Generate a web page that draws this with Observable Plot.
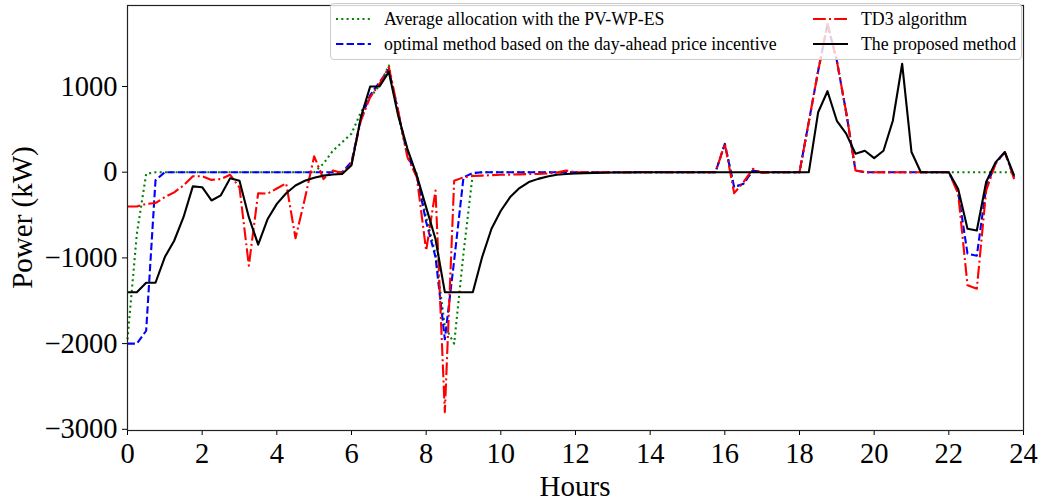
<!DOCTYPE html>
<html><head><meta charset="utf-8">
<script src="https://cdn.jsdelivr.net/npm/d3@7"></script>
<script src="https://cdn.jsdelivr.net/npm/@observablehq/plot@0.6"></script>
<style>
body{margin:0;background:#fff;}
#wrap{position:relative;width:1042px;height:504px;font-family:"Liberation Serif","Times New Roman",serif;}
#legend{position:absolute;left:330px;top:3px;width:692px;height:57px;background:rgba(255,255,255,0.8);border:1px solid #ccc;border-radius:4px;box-sizing:border-box;}
.item{position:absolute;display:flex;align-items:center;font-size:17.8px;white-space:nowrap;height:20px;color:#000;}
.item svg{margin-right:13px;}
</style></head><body><div id="wrap"></div>
<script>
// time step (hours) between samples; 96 samples over a day
const stepHours = 0.25;
const xTicks = [0,2,4,6,8,10,12,14,16,18,20,22,24];
const yTicks = [-3000,-2000,-1000,0,1000];

const seriesNames = [
  "Average allocation with the PV-WP-ES",
  "optimal method based on the day-ahead price incentive",
  "TD3 algorithm",
  "The proposed method"
];

const averageAllocation = [
  -1950,-720,-20,0, 0,0,0,0, 0,0,0,0, 0,0,0,0, 0,0,0,0,
  0,100,250,350, 450,700,875,1010, 1245,680,175,-20, -525,-950,-1800,-2000,
  -945,-15,0,0, 0,0,0,0, 0,0,0,0, 0,0,0,0, 0,0,0,0,
  0,0,0,0, 0,0,0,0, 330,-175,-135,20, 0,0,0,0,
  0,590,1180,1730, 1300,700,20,0, 0,0,0,0, 0,0,0,0,
  0,0,0,0, 0,0,0,0
];
const optimalDayAhead = [
  -2000,-2000,-1850,-95, 0,0,0,0, 0,0,0,0, 0,0,0,0, 0,0,0,0,
  0,0,0,0, 120,620,900,1050, 1200,700,200,-50, -580,-990,-1950,-1030,
  -60,-10,0,0, 0,0,0,0, 0,0,0,0, 0,0,0,0, 0,0,0,0,
  0,0,0,0, 0,0,0,0, 330,-175,-135,20, 0,0,0,0,
  0,590,1180,1730, 1300,700,20,0, 0,0,0,0, 0,0,0,0,
  0,-235,-950,-975, -175,100,235,-60
];
const td3 = [
  -400,-400,-370,-360, -290,-235,-155,-47, -47,-90,-80,-30, -180,-1090,-245,-250, -190,-130,-770,-310,
  185,-80,20,-10, 100,600,875,1030, 1225,720,175,-60, -915,-215,-2800,-100,
  -60,-45,-40,-35, -30,-28,-25,-22, -20,-15,-5,20, 0,0,0,0, 0,0,0,0,
  0,0,0,0, 0,0,0,0, 330,-245,-117,40, -10,0,0,0,
  0,590,1180,1730, 1300,700,20,0, 0,0,0,0, 0,0,0,0,
  0,-250,-1320,-1360, -215,100,235,-80
];
const proposed = [
  -1400,-1400,-1290,-1290, -990,-800,-525,-165, -175,-330,-270,-70, -100,-525,-845,-550, -370,-245,-155,-100,
  -65,-40,-27,-20, 80,640,1000,1000, 1170,660,270,-40, -410,-780,-1400,-1400,
  -1400,-1400,-990,-660, -450,-290,-185,-115, -78,-50,-30,-22, -15,-11,-8,-6, -4,-3,-2,-1,
  0,0,0,0, 0,0,0,0, 0,0,0,0, 0,0,0,0,
  0,0,700,945, 600,450,215,250, 165,250,600,1265, 235,0,0,0,
  0,-195,-660,-680, -115,115,235,-40
];

const toRows = arr => arr.map((v,i) => ({hour: i*stepHours, value: v}));

const styles = [
  {data: averageAllocation, stroke: "#008000", dash: "2,3.3"},
  {data: optimalDayAhead, stroke: "#0000ff", dash: "7.4,3.2"},
  {data: td3, stroke: "#ff0000", dash: "12.8,3.2,2,3.2"},
  {data: proposed, stroke: "#000000", dash: null}
];

const chart = Plot.plot({
  width: 1042,
  height: 504,
  marginLeft: 127,
  marginRight: 19,
  marginTop: 5,
  marginBottom: 74,
  style: {fontFamily: "'Liberation Serif','Times New Roman',serif", fontSize: "28.5px", background: "transparent", color: "#000"},
  x: {domain: [0,24], ticks: xTicks, tickFormat: d3.format("d"), label: null, tickSize: 5, tickPadding: 7},
  y: {domain: [-3014, 1945], ticks: yTicks, tickFormat: d3.format("d"), label: null, tickSize: 5, tickPadding: 5},
  marks: [
    ...styles.map(s => Plot.line(toRows(s.data), {x: "hour", y: "value", stroke: s.stroke, strokeWidth: 2.1, strokeDasharray: s.dash ?? undefined, strokeLinejoin: "round", strokeLinecap: "butt"})),
    Plot.frame({stroke: "#222", strokeWidth: 1.2})
  ]
});

const wrap = document.getElementById("wrap");
wrap.appendChild(chart);

const svg = d3.select(chart);
svg.append("text").attr("x", 575).attr("y", 496).attr("text-anchor", "middle")
  .attr("font-size", 29).attr("fill", "#000").text("Hours");
svg.append("text").attr("transform", "translate(32,217.5) rotate(-90)").attr("text-anchor", "middle")
  .attr("font-size", 29).attr("fill", "#000").text("Power (kW)");

// legend
const legend = document.createElement("div");
legend.id = "legend";
wrap.appendChild(legend);
const pos = [[5,5],[5,30],[482,5],[482,30]];
seriesNames.forEach((name,i) => {
  const it = document.createElement("div");
  it.className = "item";
  it.style.left = pos[i][0] + "px";
  it.style.top = pos[i][1] + "px";
  const s = styles[i];
  it.innerHTML = `<svg width="35" height="10"><line x1="0" y1="5" x2="35" y2="5" stroke="${s.stroke}" stroke-width="2" ${s.dash ? `stroke-dasharray="${s.dash}"` : ""}/></svg><span>${name}</span>`;
  legend.appendChild(it);
});
</script>
</body></html>
